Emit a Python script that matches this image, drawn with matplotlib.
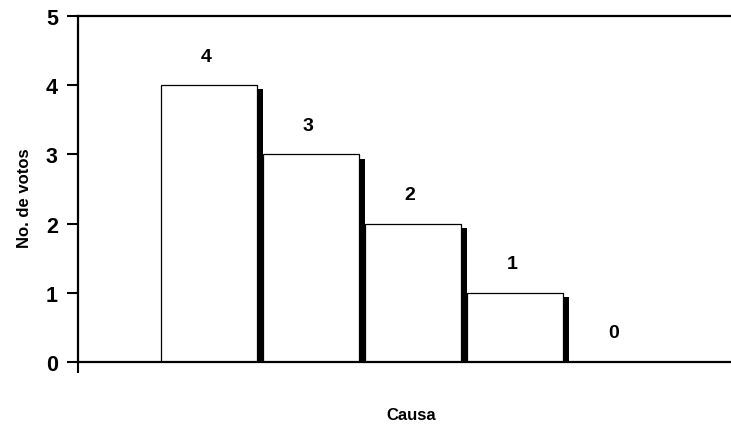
import matplotlib
matplotlib.use('Agg')
import matplotlib.pyplot as plt
from matplotlib.patches import Rectangle

# Votes per cause
causas = ['A', 'B', 'C', 'D', 'E']
votos = [4, 3, 2, 1, 0]

FONT = 'Liberation Sans'
BAR_W = 0.94
SHADOW_W = 0.06
SHADOW_DY = 0.05

fig = plt.figure(figsize=[7.31, 4.27], dpi=100)
ax = fig.add_axes([78 / 731, 64 / 427, 653 / 731, 346 / 427])

for i, v in enumerate(votos):
    if v <= 0:
        continue
    # drop shadow on the right and bottom
    ax.add_patch(Rectangle((i + BAR_W - 0.004, -SHADOW_DY), SHADOW_W + 0.004,
                           v - 0.01, facecolor='black', edgecolor='none', zorder=2))
    ax.add_patch(Rectangle((i + 0.04, -SHADOW_DY), BAR_W, SHADOW_DY,
                           facecolor='black', edgecolor='none', zorder=2))
    ax.bar(i, v, width=BAR_W, align='edge', facecolor='white',
           edgecolor='black', linewidth=0.9, zorder=3)

for i, v in enumerate(votos):
    ax.text(i + BAR_W / 2 - 0.03, v + 0.42, str(v), ha='center', va='center',
            fontsize=14, fontweight='bold', family=FONT)

ax.set_xlim(-0.814, 5.588)
ax.set_ylim(0, 5)
ax.set_yticks(range(0, 6))
ax.set_yticklabels([str(t) for t in range(0, 6)], fontsize=15.5,
                   fontweight='bold', family=FONT)
ax.tick_params(axis='y', direction='out', length=8, width=1.5, pad=6.5)
ax.set_xticks([-0.814])
ax.set_xticklabels([])
ax.tick_params(axis='x', direction='out', length=8, width=1.5)

for side in ['left', 'top', 'bottom']:
    ax.spines[side].set_linewidth(1.6)
ax.spines['right'].set_visible(False)
ax.spines['bottom'].set_zorder(4)

fig.text(25 / 731, 1 - 198 / 427, 'No. de votos', rotation=90,
         ha='center', va='center', fontsize=12, fontweight='bold', family=FONT)
fig.text(411 / 731, 1 - 416 / 427, 'Causa', ha='center', va='center',
         fontsize=12, fontweight='bold', family=FONT)

plt.savefig('out.png', dpi=100)
